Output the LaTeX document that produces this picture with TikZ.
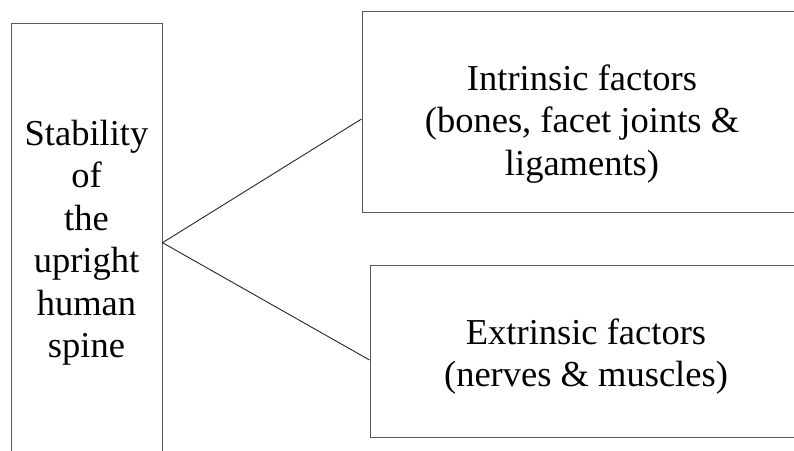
\documentclass[tikz,border=0pt]{standalone}
\usepackage{fontspec}
\setmainfont{Liberation Serif}
\usepackage{tikz}
\usetikzlibrary{positioning,calc}

\begin{document}
\begin{tikzpicture}[x=1pt,y=-1pt,
    box/.style={draw=black!65, line width=1pt, inner sep=0pt},
    txt/.style={align=center, font=\fontsize{36.5}{42.5}\selectfont},
    link/.style={draw=black!85, line width=0.9pt}]
  \clip (0,0) rectangle (794,450);

  % main column (bottom runs off the page)
  \node[box, txt, minimum width=151pt, minimum height=439.4pt] (spine) at (86.5,242.7)
    {Stability\\of\\the\\upright\\human\\spine};

  % the two factor boxes (right side runs off the page)
  \node[box, minimum width=440pt, minimum height=201.7pt] (intrinsicbox) at (582,111.85) {};
  \node[txt] (intrinsic) at ([yshift=-12pt]intrinsicbox.center)
    {Intrinsic factors\\(bones, facet joints \&\\ligaments)};

  \node[box, minimum width=432pt, minimum height=172pt] (extrinsicbox) at (586,351.7) {};
  \node[txt] (extrinsic) at ([yshift=-5pt]extrinsicbox.center)
    {Extrinsic factors\\(nerves \& muscles)};

  \draw[link] (spine.east) -- ([yshift=-7.15pt]intrinsicbox.west);
  \draw[link] (spine.east) -- ([yshift=-8.3pt]extrinsicbox.west);
\end{tikzpicture}
\end{document}
